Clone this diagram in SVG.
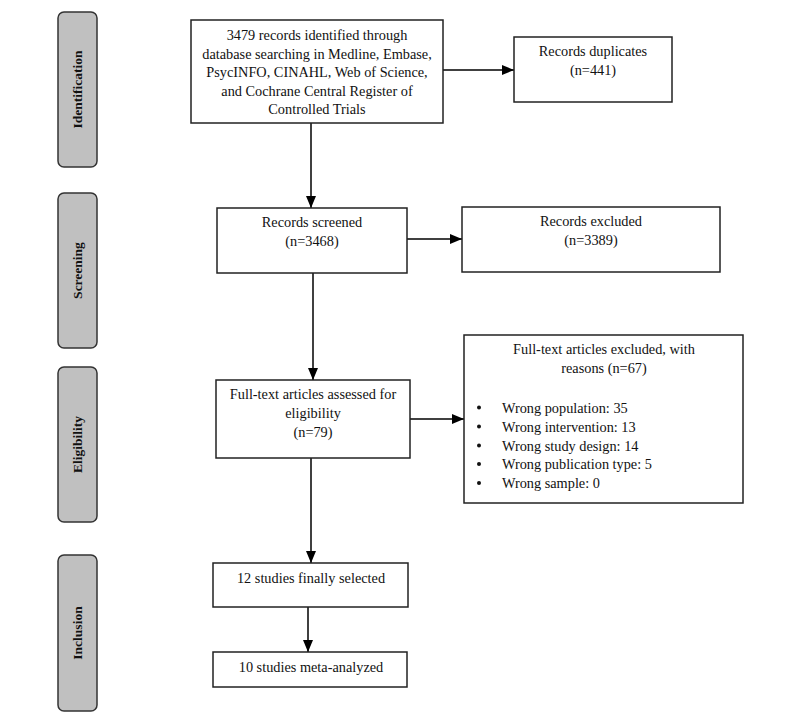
<svg xmlns="http://www.w3.org/2000/svg" width="800" height="717" viewBox="0 0 800 717">
<style>
.box{fill:#fff;stroke:#222;stroke-width:1.5}
.side{fill:#c0c0c0;stroke:#333;stroke-width:1.5}
.t{font-family:"Liberation Serif","Times New Roman",serif;font-size:14.3px;fill:#111}
.c{text-anchor:middle}
.s{font-family:"Liberation Serif","Times New Roman",serif;font-size:13.5px;font-weight:bold;fill:#111;text-anchor:middle}
.ln{stroke:#000;stroke-width:1.5;fill:none}
</style>
<defs>
<marker id="ah" markerWidth="12" markerHeight="10" refX="12" refY="5" orient="auto" markerUnits="userSpaceOnUse">
<path d="M0,0 L12,5 L0,10 Z" fill="#000"/>
</marker>
</defs>
<rect width="800" height="717" fill="#fff"/>
<g id="phase-identification"><rect class="side" x="58" y="12" width="39" height="155" rx="6"/><text class="s" transform="translate(82,89.5) rotate(-90)">Identification</text></g>
<g id="phase-screening"><rect class="side" x="58" y="193" width="39" height="155" rx="6"/><text class="s" transform="translate(82,270.5) rotate(-90)">Screening</text></g>
<g id="phase-eligibility"><rect class="side" x="58" y="367" width="39" height="155" rx="6"/><text class="s" transform="translate(82,444.5) rotate(-90)">Eligibility</text></g>
<g id="phase-inclusion"><rect class="side" x="58" y="555" width="39" height="156" rx="6"/><text class="s" transform="translate(82,633) rotate(-90)">Inclusion</text></g>

<g id="connectors">
<line class="ln" x1="443" y1="70" x2="514" y2="70" marker-end="url(#ah)"/>
<line class="ln" x1="311" y1="123" x2="311" y2="208" marker-end="url(#ah)"/>
<line class="ln" x1="402" y1="239" x2="462" y2="239" marker-end="url(#ah)"/>
<line class="ln" x1="313" y1="273" x2="313" y2="380" marker-end="url(#ah)"/>
<line class="ln" x1="410" y1="419" x2="464" y2="419" marker-end="url(#ah)"/>
<line class="ln" x1="311" y1="458" x2="311" y2="563" marker-end="url(#ah)"/>
<line class="ln" x1="308" y1="607" x2="308" y2="652" marker-end="url(#ah)"/>
</g>

<g id="identified"><rect class="box" x="191" y="20" width="252" height="103"/>
<text class="t c" x="317"><tspan x="317" y="40">3479 records identified through</tspan><tspan x="317" y="58.5">database searching in Medline, Embase,</tspan><tspan x="317" y="77">PsycINFO, CINAHL, Web of Science,</tspan><tspan x="317" y="95.5">and Cochrane Central Register of</tspan><tspan x="317" y="114">Controlled Trials</tspan></text></g>

<g id="duplicates"><rect class="box" x="514" y="37" width="158" height="65"/>
<text class="t c"><tspan x="593" y="55.5">Records duplicates</tspan><tspan x="593" y="74.5">(n=441)</tspan></text></g>

<g id="screened"><rect class="box" x="217" y="208" width="190" height="65"/>
<text class="t c"><tspan x="312" y="226.5">Records screened</tspan><tspan x="312" y="245.5">(n=3468)</tspan></text></g>

<g id="excluded"><rect class="box" x="462" y="207" width="258" height="65"/>
<text class="t c"><tspan x="591" y="225.5">Records excluded</tspan><tspan x="591" y="244.5">(n=3389)</tspan></text></g>

<g id="fulltext"><rect class="box" x="216" y="380" width="194" height="78"/>
<text class="t c"><tspan x="313" y="398.5">Full-text articles assessed for</tspan><tspan x="313" y="417.5">eligibility</tspan><tspan x="313" y="436.5">(n=79)</tspan></text></g>

<g id="fulltext-excluded"><rect class="box" x="464" y="335" width="279" height="168"/>
<text class="t c"><tspan x="604" y="353.5">Full-text articles excluded, with</tspan><tspan x="604" y="372.5">reasons (n=67)</tspan></text>
<g class="t">
<circle cx="479" cy="407.5" r="2" fill="#111"/><text x="502" y="412.5">Wrong population: 35</text>
<circle cx="479" cy="426.5" r="2" fill="#111"/><text x="502" y="431.5">Wrong intervention: 13</text>
<circle cx="479" cy="445.5" r="2" fill="#111"/><text x="502" y="450.5">Wrong study design: 14</text>
<circle cx="479" cy="464" r="2" fill="#111"/><text x="502" y="469">Wrong publication type: 5</text>
<circle cx="479" cy="483" r="2" fill="#111"/><text x="502" y="488">Wrong sample: 0</text>
</g></g>

<g id="selected"><rect class="box" x="213" y="563" width="195" height="44"/>
<text class="t c" x="311" y="582.5">12 studies finally selected</text></g>

<g id="meta"><rect class="box" x="213" y="652" width="194" height="35"/>
<text class="t c" x="311" y="671.5">10 studies meta-analyzed</text></g>
</svg>
